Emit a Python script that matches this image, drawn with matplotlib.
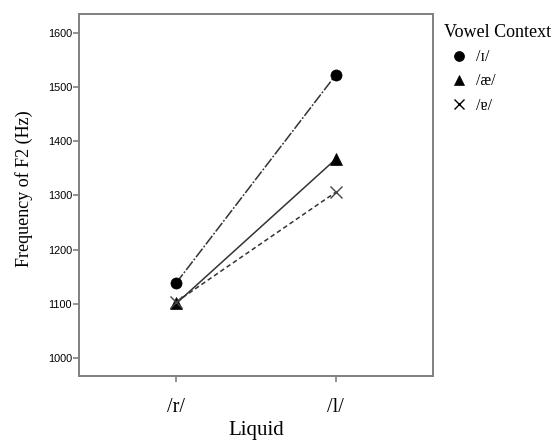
import matplotlib
matplotlib.use("Agg")
import matplotlib.pyplot as plt
from matplotlib.lines import Line2D

liquids = ["/r/", "/l/"]
vowels = ["/ɪ/", "/æ/", "/ɐ/"]
f2_i = [1139, 1522]
f2_ae = [1101, 1367]
f2_er = [1104, 1306]
yticks = [1000, 1100, 1200, 1300, 1400, 1500, 1600]

series = [f2_i, f2_ae, f2_er]
markers = ["o", "^", "x"]
dashes = [(7, 1.2, 1.2, 1.2), (None, None), (3, 2)]
msizes = [8, 8.5, 8]

fig = plt.figure(figsize=(5.59, 4.4), dpi=100)
ax = fig.add_axes([79/559, 64/440, 354/559, 362/440])
x = list(range(len(liquids)))
serif = ["Liberation Serif", "DejaVu Serif"]

for vals, m, d, ms in zip(series, markers, dashes, msizes):
    ln, = ax.plot(x, vals, color="#333333", lw=1.1, zorder=2)
    if d[0] is not None:
        ln.set_dashes(d)
    ax.plot(x, vals, linestyle="none", marker=m, color="black",
            markersize=ms, markeredgewidth=1.0 if m == "x" else 0.5,
            markeredgecolor="#444444" if m == "x" else "black", zorder=3)

ax.set_xlim(-0.61, 1.61)
ax.set_ylim(967.4, 1634.4)
ax.set_xticks(x)
ax.set_xticklabels(liquids, fontfamily=serif, fontsize=14.5)
ax.set_yticks(yticks)
ax.set_yticklabels([str(v) for v in yticks], fontfamily=["Liberation Sans", "DejaVu Sans"], fontsize=7.8)
for s in ax.spines.values():
    s.set_color("#808080")
    s.set_linewidth(1.4)
ax.tick_params(axis="both", colors="#808080", length=4, width=1.2)
ax.tick_params(axis="x", labelcolor="black", pad=12)
ax.tick_params(axis="y", labelcolor="black", pad=1)

ax.set_xlabel("Liquid", fontfamily=serif, fontsize=15, labelpad=3)
ax.set_ylabel("Frequency of F2 (Hz)", fontfamily=serif, fontsize=13)
ax.yaxis.set_label_coords(-0.13, 0.518)

handles = [Line2D([], [], linestyle="none", marker=m, color="black", markersize=ms * 0.9,
                  markeredgewidth=1.0 if m == "x" else 0.5)
           for m, ms in zip(markers, msizes)]
leg = ax.legend(handles, vowels, title="Vowel Context", loc="upper left",
                bbox_to_anchor=(1.0 + 3/354, 0.995), frameon=False,
                prop={"family": serif, "size": 11.5}, handletextpad=0.1,
                labelspacing=0.52, borderaxespad=0.3, handlelength=1.9,
                borderpad=0.2)
leg.get_title().set_fontfamily(serif)
leg.get_title().set_fontsize(13)
leg._legend_box.align = "left"

fig.savefig("out.png", dpi=100)
